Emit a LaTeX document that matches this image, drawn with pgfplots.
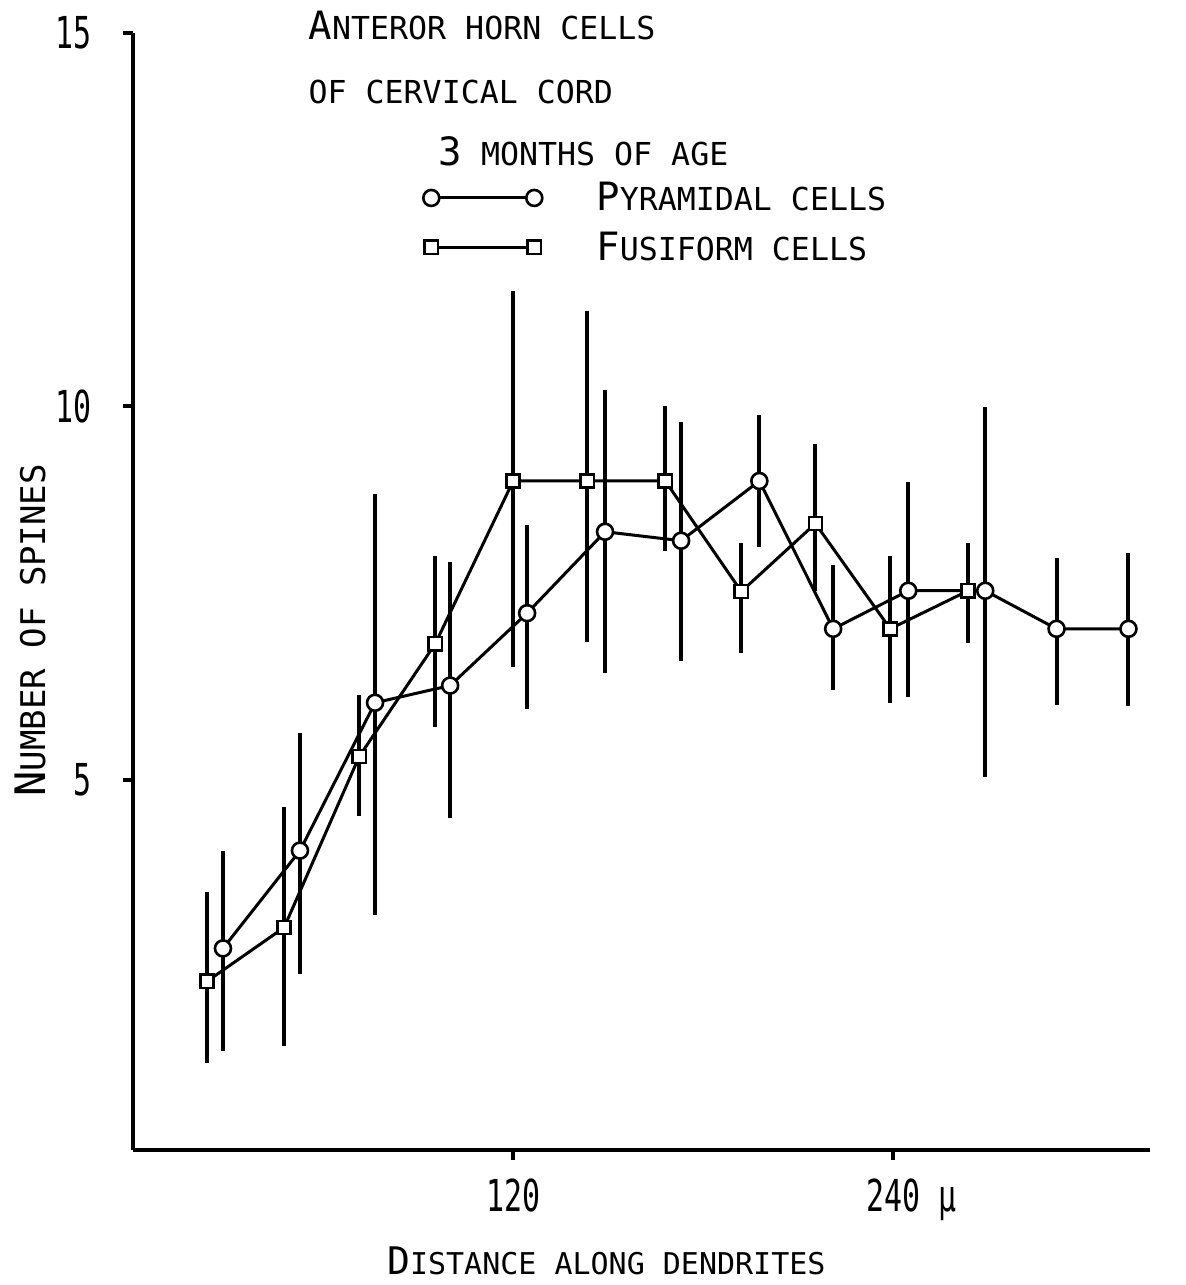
\documentclass[border=0pt]{standalone}
\usepackage{pgfplots}
\pgfplotsset{compat=1.18}
\usepackage{pgfplotstable}
\usepackage{fontspec}
\setmainfont{DejaVu Sans Mono}
\newcommand{\sm}{\fontsize{15.8}{16}\selectfont}
\newcommand{\bg}{\fontsize{19.5}{20}\selectfont}
\newcommand{\SC}[2]{{\bg #1}{\sm #2}}

\pgfplotstableread{
x     y    ep   em
28.4  2.74 1.30 1.37
52.7  4.05 1.57 1.65
76.4  6.03 2.80 2.84
100.1 6.26 1.66 1.78
124.4 7.23 1.18 1.29
149.0 8.32 1.90 1.89
173.0 8.20 1.59 1.61
197.7 9.00 0.89 0.89
221.0 7.02 0.86 0.82
244.7 7.53 1.45 1.42
269.0 7.53 2.46 2.50
291.5 7.02 0.95 1.02
314.2 7.02 1.02 1.03
}\pyr

\pgfplotstableread{
x     y    ep   em
23.4  2.30 1.19 1.10
47.7  3.02 1.61 1.59
71.4  5.31 0.83 0.80
95.4  6.82 1.17 1.11
120.0 9.00 2.54 2.49
143.4 9.00 2.27 2.15
168.0 9.00 1.00 0.94
192.0 7.52 0.65 0.83
215.4 8.43 1.07 0.90
239.0 7.02 0.97 1.00
263.6 7.53 0.64 0.70
}\fus

\begin{document}
\begin{tikzpicture}
\path[use as bounding box] (-66.5pt,-67.5pt) rectangle (526pt,575pt);
\begin{axis}[
  scale only axis, width=508.5pt, height=558.5pt,
  xmin=0, xmax=321, ymin=0.04, ymax=15,
  axis lines=left, axis line style={-, line width=2pt},
  xtick={120,240}, xticklabels={120, 240\rlap{ μ}},
  ytick={5,10,15},
  /pgf/number format/assume math mode=true,
  tick align=outside, major tick length=5pt,
  tick style={line width=2pt, black},
  tick label style={font=\fontsize{22}{22}\selectfont, xscale=0.68},
  yticklabel style={xshift=-19.5pt},
  xticklabel style={yshift=-6pt},
  clip=false,
  legend cell align=left,
  legend image code/.code={\draw[#1] plot coordinates {(0pt,0pt) (51.5pt,0pt)};},
  legend style={draw=none, fill=none, at={(axis cs:91.5,13.06)}, anchor=north west,
    inner sep=0pt, row sep=5pt, font=\sm,
    /tikz/every odd column/.append style={column sep=25pt}},
]
\addplot[forget plot, only marks, mark=none, error bars/.cd, y dir=both, y explicit,
  error bar style={line width=2pt, black}, error mark=none]
  table[x=x, y=y, y error plus=ep, y error minus=em] {\pyr};
\addplot[forget plot, only marks, mark=none, error bars/.cd, y dir=both, y explicit,
  error bar style={line width=2pt, black}, error mark=none]
  table[x=x, y=y, y error plus=ep, y error minus=em] {\fus};
\addplot[black, line width=1.5pt, mark=*, mark size=4pt,
  mark options={fill=white, line width=1.3pt, solid}]
  table[x=x, y=y] {\pyr};
\addplot[black, line width=1.5pt, mark=square*, mark size=3.3pt,
  mark options={fill=white, line width=1.3pt, solid}]
  table[x=x, y=y] {\fus};
\legend{\SC{P}{YRAMIDAL CELLS}, \SC{F}{USIFORM CELLS}}
\node[anchor=base west, inner sep=0pt] at (axis cs:55.3,14.91) {\SC{A}{NTEROR HORN CELLS}};
\node[anchor=base west, inner sep=0pt] at (axis cs:55.3,14.06) {\sm OF CERVICAL CORD};
\node[anchor=base west, inner sep=0pt] at (axis cs:96.3,13.23) {\SC{3}{ MONTHS OF AGE}};
\node[rotate=90, anchor=center, inner sep=0pt] at (axis cs:-32.5,7.0)
  {{\fontsize{21}{21}\selectfont N}{\fontsize{17}{17}\selectfont UMBER OF SPINES}};
\node[anchor=center, inner sep=0pt] at (axis cs:149.4,-1.45)
  {{\fontsize{19}{19}\selectfont D}{\fontsize{15}{15}\selectfont ISTANCE ALONG DENDRITES}};
\end{axis}
\end{tikzpicture}
\end{document}
